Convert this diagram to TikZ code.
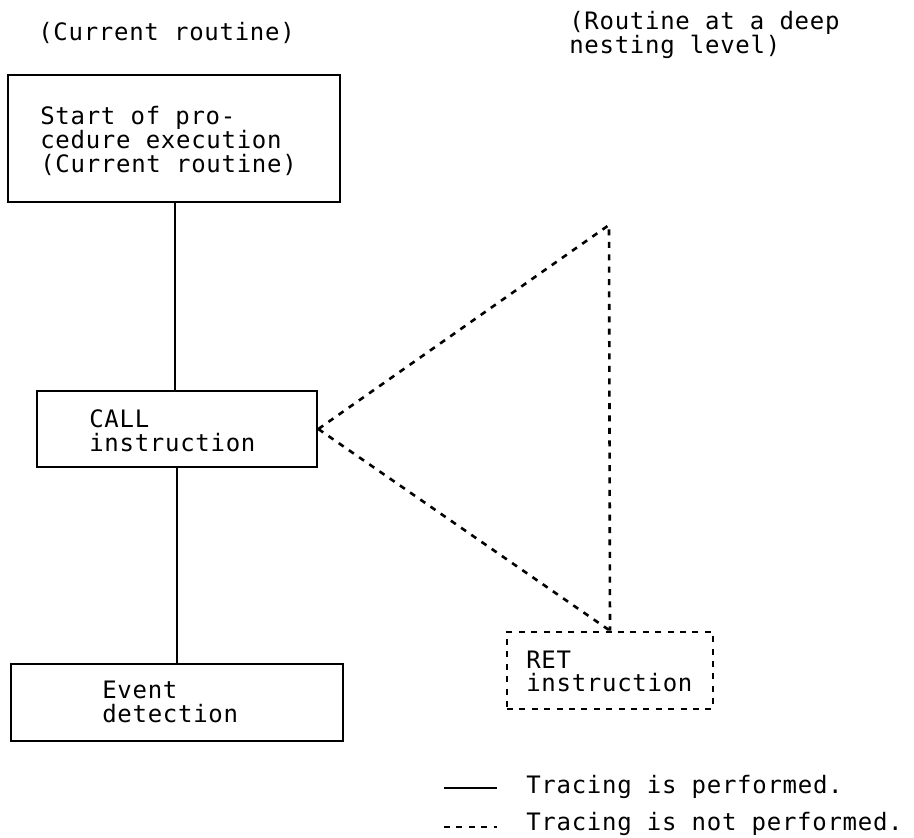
\documentclass[tikz,border=0pt]{standalone}
\usepackage{fontspec}
\newfontfamily\plotfont[LetterSpace=3]{DejaVu Sans Mono}
\begin{document}
\begin{tikzpicture}[x=0.5pt,y=-0.5pt,
  line width=1.3pt,
  txt/.style={anchor=west,inner sep=0pt,align=left,font=\plotfont\fontsize{12pt}{11.8pt}\selectfont},
  procbox/.style={draw,rectangle,inner sep=0pt},
  untraced/.style={dash pattern=on 3pt off 3.2pt},
  traced/.style={}]
\useasboundingbox (0,0) rectangle (914,837);

% headings
\node[txt] (hcur) at (37,33) {(Current routine)};
\node[txt] (hdeep) at (568,35) {(Routine at a deep\\nesting level)};

% current routine boxes
\node[procbox,minimum width=166pt,minimum height=63.5pt] (start) at (174,138.5) {};
\node[txt] at (39,141) {Start of pro-\\cedure execution\\(Current routine)};

\node[procbox,minimum width=140pt,minimum height=38pt] (call) at (177,429) {};
\node[txt] at (88,430.5) {CALL\\instruction};

\node[procbox,minimum width=166pt,minimum height=38.5pt] (event) at (177,702.5) {};
\node[txt] at (101,702) {Event\\detection};

% deeply nested routine
\node[procbox,untraced,minimum width=103pt,minimum height=38.5pt] (ret) at (610,670.5) {};
\node[txt] at (525,671.5) {RET\\instruction};
\coordinate (apex) at (609,225);

% connectors
\draw[traced] (start.south -| 175,0) -- (call.north -| 175,0);
\draw[traced] (call.south) -- (event.north);
\draw[untraced] (call.east) -- (apex) -- (ret.north);
\draw[untraced] (call.east) -- (ret.north);

% legend
\coordinate (la1) at (444,788);
\coordinate (lb1) at (497,788);
\coordinate (la2) at (444,827);
\coordinate (lb2) at (497,827);
\draw[traced] (la1) -- (lb1);
\draw[untraced] (la2) -- (lb2);
\node[txt] (lt1) at (525,787) {Tracing is performed.};
\node[txt] (lt2) at (525,824) {Tracing is not performed.};
\end{tikzpicture}
\end{document}
